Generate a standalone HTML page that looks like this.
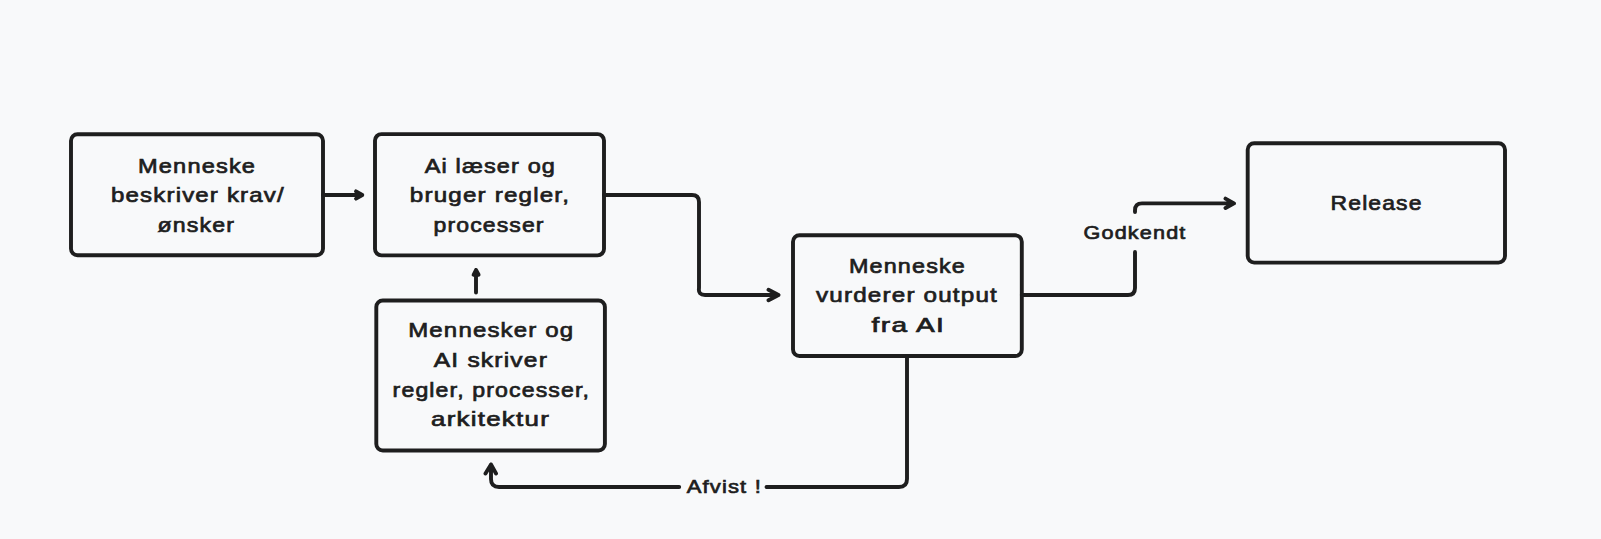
<!DOCTYPE html>
<html><head><meta charset="utf-8">
<style>
html,body{margin:0;padding:0;background:#f8f9fa;}
body{width:1601px;height:539px;overflow:hidden;}
svg{display:block;}
text{font-family:"Liberation Sans",sans-serif;fill:#1e1e1e;stroke:#1e1e1e;stroke-width:0.7px;letter-spacing:1px;}
</style></head>
<body>
<svg width="1601" height="539" viewBox="0 0 1601 539">
<g fill="none" stroke="#1e1e1e" stroke-width="3.9" stroke-linecap="round" stroke-linejoin="round">
<rect x="71" y="134.3" width="252" height="121" rx="6.5"/>
<rect x="375" y="134.1" width="229" height="121.3" rx="6.5"/>
<rect x="376.3" y="300.5" width="228.6" height="150" rx="6.5"/>
<rect x="793" y="235.3" width="228.8" height="120.7" rx="6.5"/>
<rect x="1247.7" y="143.2" width="257.3" height="119.4" rx="6.5"/>
<path d="M323 195 H362.3 M356 191.4 L362.3 195 L356 198.6"/>
<path d="M604 195 H692 Q699 195 699 202 V288 Q698 295 705 295 H778.5 M768.5 289.8 L778.5 295 L768.5 300.3"/>
<path d="M476 292.5 V270 M473.6 274.8 L476 270 L478.6 274.8"/>
<path d="M907 356 V479 Q907 487 899 487 H766.5 M679.2 487 H499 Q491 487 491 479 V464.5 M485.5 473.5 L491 464.5 L496 473.5"/>
<path d="M1021.8 295 H1128 Q1135 295 1135 288 V252 M1135 212 V210.4 Q1135 203.4 1142 203.4 H1234 M1225.5 198.6 L1234 203.4 L1225.5 208"/>
</g>

<g>
<text x="138.00" y="172.50" font-size="20.5" textLength="118.15" lengthAdjust="spacingAndGlyphs">Menneske</text>
<text x="111.00" y="202.10" font-size="20.5" textLength="173.83" lengthAdjust="spacingAndGlyphs">beskriver krav/</text>
<text x="157.60" y="231.80" font-size="20.5" textLength="77.49" lengthAdjust="spacingAndGlyphs">ønsker</text>
<text x="424.80" y="172.50" font-size="20.5" textLength="131.23" lengthAdjust="spacingAndGlyphs">Ai læser og</text>
<text x="409.80" y="202.10" font-size="20.5" textLength="160.34" lengthAdjust="spacingAndGlyphs">bruger regler,</text>
<text x="433.60" y="231.80" font-size="20.5" textLength="111.07" lengthAdjust="spacingAndGlyphs">processer</text>
<text x="408.20" y="337.30" font-size="20.5" textLength="166.12" lengthAdjust="spacingAndGlyphs">Mennesker og</text>
<text x="433.80" y="366.90" font-size="20.5" textLength="114.23" lengthAdjust="spacingAndGlyphs">AI skriver</text>
<text x="392.60" y="396.50" font-size="20.5" textLength="197.48" lengthAdjust="spacingAndGlyphs">regler, processer,</text>
<text x="431.00" y="426.10" font-size="20.5" textLength="119.03" lengthAdjust="spacingAndGlyphs">arkitektur</text>
<text x="849.00" y="272.80" font-size="20.5" textLength="116.93" lengthAdjust="spacingAndGlyphs">Menneske</text>
<text x="816.00" y="302.40" font-size="20.5" textLength="182.01" lengthAdjust="spacingAndGlyphs">vurderer output</text>
<text x="871.60" y="332.00" font-size="20.5" textLength="73.63" lengthAdjust="spacingAndGlyphs">fra AI</text>
<text x="1330.60" y="209.60" font-size="20.5" textLength="91.97" lengthAdjust="spacingAndGlyphs">Release</text>
<text x="1083.60" y="238.60" font-size="19.0" textLength="102.86" lengthAdjust="spacingAndGlyphs">Godkendt</text>
<text x="686.80" y="493.20" font-size="19.0" textLength="75.09" lengthAdjust="spacingAndGlyphs">Afvist !</text>
</g>
</svg>
</body></html>
